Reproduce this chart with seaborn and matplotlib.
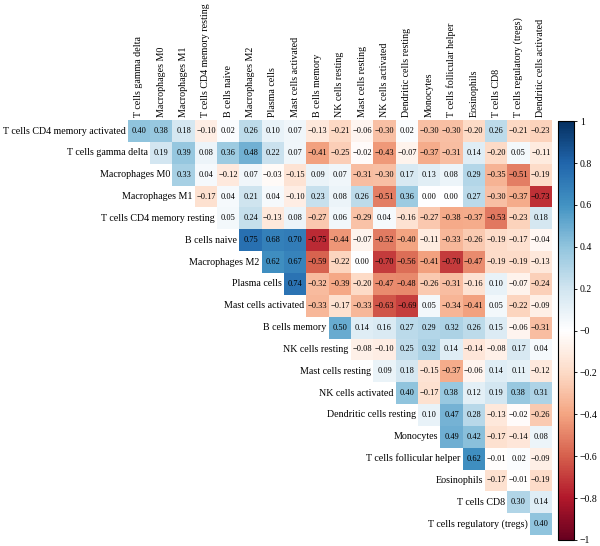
import numpy as np
import pandas as pd
import seaborn as sns
import matplotlib.pyplot as plt
from matplotlib.colors import LinearSegmentedColormap

# -------------------------------
# Datos (triangulo superior de la matriz de correlacion)
# -------------------------------
celulas = [
    "T cells CD4 memory activated", "T cells gamma delta", "Macrophages M0",
    "Macrophages M1", "T cells CD4 memory resting", "B cells naive",
    "Macrophages M2", "Plasma cells", "Mast cells activated", "B cells memory",
    "NK cells resting", "Mast cells resting", "NK cells activated",
    "Dendritic cells resting", "Monocytes", "T cells follicular helper",
    "Eosinophils", "T cells CD8", "T cells regulatory (tregs)",
    "Dendritic cells activated",
]
etiquetas_filas = celulas[:-1]
etiquetas_columnas = celulas[1:]

r_cd4_activated = [0.40, 0.38, 0.18, -0.10, 0.02, 0.26, 0.10, 0.07, -0.13, -0.21,
                   -0.06, -0.30, 0.02, -0.30, -0.30, -0.20, 0.26, -0.21, -0.23]
r_gamma_delta = [0.19, 0.39, 0.08, 0.36, 0.48, 0.22, 0.07, -0.41, -0.25, -0.02,
                 -0.43, -0.07, -0.37, -0.31, 0.14, -0.20, 0.05, -0.11]
r_macro_m0 = [0.33, 0.04, -0.12, 0.07, -0.03, -0.15, 0.09, 0.07, -0.31, -0.30,
              0.17, 0.13, 0.08, 0.29, -0.35, -0.51, -0.19]
r_macro_m1 = [-0.17, 0.04, 0.21, 0.04, -0.10, 0.23, 0.08, 0.26, -0.51, 0.36,
              0.00, 0.00, 0.27, -0.30, -0.37, -0.73]
r_cd4_resting = [0.05, 0.24, -0.13, 0.08, -0.27, 0.06, -0.29, 0.04, -0.16, -0.27,
                 -0.38, -0.37, -0.53, -0.23, 0.18]
r_b_naive = [0.75, 0.68, 0.70, -0.75, -0.44, -0.07, -0.52, -0.40, -0.11, -0.33,
             -0.26, -0.19, -0.17, -0.04]
r_macro_m2 = [0.62, 0.67, -0.59, -0.22, 0.00, -0.70, -0.56, -0.41, -0.70, -0.47,
              -0.19, -0.19, -0.13]
r_plasma = [0.74, -0.32, -0.39, -0.20, -0.47, -0.48, -0.26, -0.31, -0.16, 0.10,
            -0.07, -0.24]
r_mast_activated = [-0.33, -0.17, -0.33, -0.63, -0.69, 0.05, -0.34, -0.41, 0.05,
                    -0.22, -0.09]
r_b_memory = [0.50, 0.14, 0.16, 0.27, 0.29, 0.32, 0.26, 0.15, -0.06, -0.31]
r_nk_resting = [-0.08, -0.10, 0.25, 0.32, 0.14, -0.14, -0.08, 0.17, 0.04]
r_mast_resting = [0.09, 0.18, -0.15, -0.37, -0.06, 0.14, 0.11, -0.12]
r_nk_activated = [0.40, -0.17, 0.38, 0.12, 0.19, 0.38, 0.31]
r_dc_resting = [0.10, 0.47, 0.28, -0.13, -0.02, -0.26]
r_monocytes = [0.49, 0.42, -0.17, -0.14, 0.08]
r_tfh = [0.62, -0.01, 0.02, -0.09]
r_eosinophils = [-0.17, -0.01, -0.19]
r_cd8 = [0.30, 0.14]
r_tregs = [0.40]

filas = [r_cd4_activated, r_gamma_delta, r_macro_m0, r_macro_m1, r_cd4_resting,
         r_b_naive, r_macro_m2, r_plasma, r_mast_activated, r_b_memory,
         r_nk_resting, r_mast_resting, r_nk_activated, r_dc_resting,
         r_monocytes, r_tfh, r_eosinophils, r_cd8, r_tregs]

n = len(etiquetas_filas)
matriz = np.full((n, n), np.nan)
for i, fila in enumerate(filas):
    matriz[i, i:] = fila
df = pd.DataFrame(matriz, index=etiquetas_filas, columns=etiquetas_columnas)

anotaciones = np.where(np.isnan(matriz), "",
                       np.vectorize(lambda v: f"{v:.2f}".replace("-", "\u2212"))(np.nan_to_num(matriz)))

# paleta RdBu de corrplot
paleta = LinearSegmentedColormap.from_list("corr", [
    "#67001F", "#B2182B", "#D6604D", "#F4A582", "#FDDBC7", "#FFFFFF",
    "#D1E5F0", "#92C5DE", "#4393C3", "#2166AC", "#053061"])

plt.rcParams['font.family'] = ['Liberation Serif', 'DejaVu Serif']

fig = plt.figure(figsize=(6.0, 5.46), dpi=100)
ax = fig.add_axes([0.213, 0.020, 0.707, 0.760])
cax = fig.add_axes([0.930, 0.011, 0.027, 0.767])

sns.heatmap(df, mask=np.isnan(matriz), cmap=paleta, vmin=-1, vmax=1,
            annot=anotaciones, fmt="", annot_kws={"size": 6, "color": "black"},
            xticklabels=etiquetas_columnas, yticklabels=False,
            cbar_ax=cax, ax=ax)

ax.xaxis.tick_top()
ax.tick_params(axis="x", length=0, pad=2)
plt.setp(ax.get_xticklabels(), rotation=90, fontsize=7.2, ha="center", va="bottom")
ax.set_xlabel("")
ax.set_ylabel("")

# etiquetas de fila a lo largo de la diagonal
for i, nombre in enumerate(etiquetas_filas):
    ax.text(i - 0.1, i + 0.5, nombre, ha="right", va="center", fontsize=7.2)

# barra de color
cbar = ax.collections[0].colorbar
ticks = np.round(np.arange(-1, 1.01, 0.2), 1)
cbar.set_ticks(ticks)
cbar.set_ticklabels([("%g" % t).replace("-", "\u2212") for t in ticks])
cbar.ax.tick_params(labelsize=7, length=2.5, width=0.6, pad=1.5)
cbar.outline.set_visible(True)
cbar.outline.set_linewidth(0.8)
cbar.outline.set_edgecolor("black")

fig.savefig("out.png", dpi=100)
